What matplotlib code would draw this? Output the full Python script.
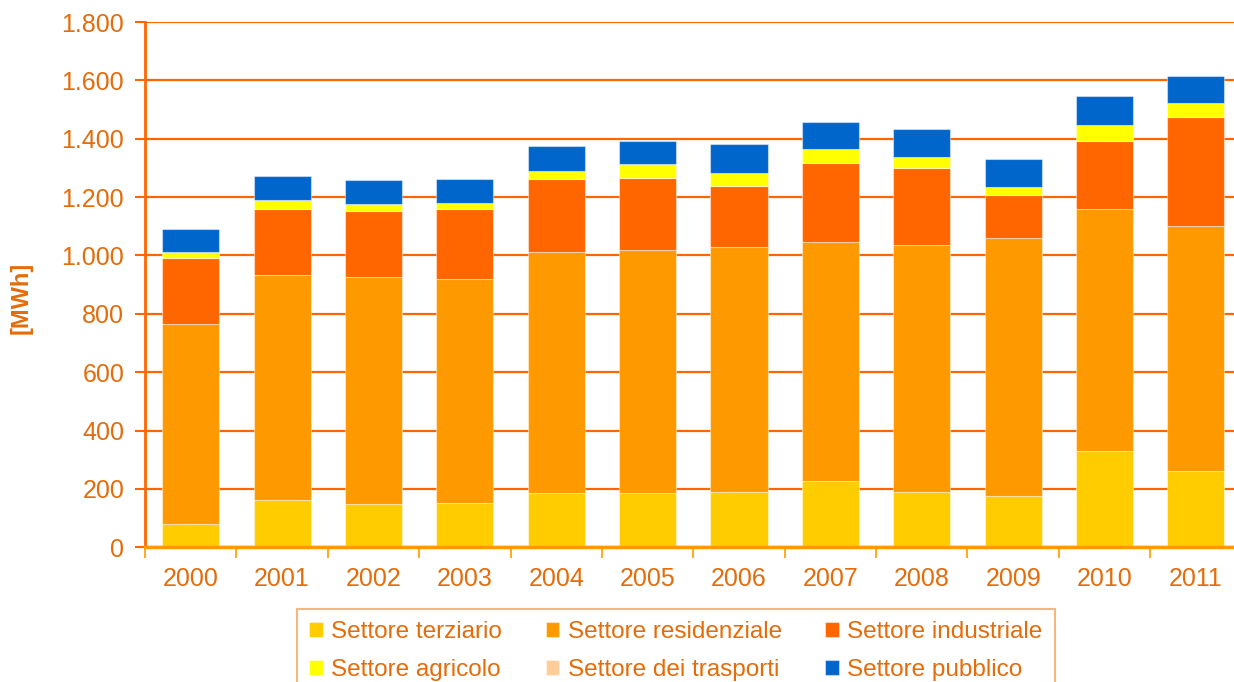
import numpy as np
import matplotlib
matplotlib.use("Agg")
import matplotlib.pyplot as plt
from matplotlib.ticker import FuncFormatter, FixedLocator

plt.rcParams['font.family'] = ['Liberation Sans', 'DejaVu Sans']

# data (MWh)
anni = ["2000", "2001", "2002", "2003", "2004", "2005",
        "2006", "2007", "2008", "2009", "2010", "2011"]
terziario = [79, 162, 148, 153, 186, 186, 191, 228, 191, 176, 329, 263]
residenziale = [686, 771, 779, 766, 825, 833, 838, 818, 845, 884, 830, 839]
industriale = [225, 225, 226, 239, 251, 248, 210, 270, 263, 147, 234, 374]
agricolo = [23, 32, 23, 23, 28, 46, 45, 50, 40, 29, 55, 46]
trasporti = [0, 0, 0, 0, 0, 0, 0, 0, 0, 0, 0, 0]
pubblico = [78, 81, 82, 82, 86, 80, 97, 91, 96, 95, 100, 94]

serie = [
    ("Settore terziario", terziario, "#FFCC00"),
    ("Settore residenziale", residenziale, "#FF9900"),
    ("Settore industriale", industriale, "#FF6600"),
    ("Settore agricolo", agricolo, "#FFFF00"),
    ("Settore dei trasporti", trasporti, "#FFCC99"),
    ("Settore pubblico", pubblico, "#0066CC"),
]

testo = "#E46C0A"
linea = "#FF6600"

fig = plt.figure(figsize=(12.34, 6.82), dpi=100)
ax = fig.add_axes([145 / 1234, 1 - 547.3 / 682, 1096.6 / 1234, 525.3 / 682])

x = np.arange(len(anni))
base = np.zeros(len(anni))
handles = {}
for nome, valori, colore in serie:
    b = ax.bar(x, valori, width=0.625, bottom=base, color=colore,
               edgecolor=(1, 1, 1, 0.45), linewidth=0.8, label=nome, zorder=3)
    handles[nome] = b
    base = base + np.array(valori)

ax.set_xlim(-0.5, len(anni) - 0.5)
ax.set_ylim(0, 1800)
ax.set_yticks(np.arange(0, 1801, 200))
ax.yaxis.set_major_formatter(FuncFormatter(lambda v, p: f"{int(v):,}".replace(",", ".")))
ax.grid(axis="y", color=linea, linewidth=1.6, zorder=0)

ax.set_xticks(x)
ax.set_xticklabels(anni)
ax.xaxis.set_minor_locator(FixedLocator(np.arange(-0.5, len(anni), 1)))
ax.tick_params(axis="x", which="major", length=0, pad=14, labelsize=18, labelcolor=testo)
ax.tick_params(axis="x", which="minor", length=8, width=1.2, color="#FF9900", direction="out")
ax.tick_params(axis="y", length=7, width=1.5, color=linea, labelsize=18,
               labelcolor=testo, pad=8)

for s in ["top", "right"]:
    ax.spines[s].set_visible(False)
ax.spines["left"].set_color(linea)
ax.spines["left"].set_linewidth(2)
ax.spines["bottom"].set_color("#FF9900")
ax.spines["bottom"].set_linewidth(2.5)
ax.spines["bottom"].set_zorder(4)

fig.text(21 / 1234, 1 - 298 / 682, "[MWh]", rotation=90, color=testo,
         fontsize=17, fontweight="bold", ha="center", va="center")

ordine = ["Settore terziario", "Settore agricolo", "Settore residenziale",
          "Settore dei trasporti", "Settore industriale", "Settore pubblico"]
leg = fig.legend([handles[n] for n in ordine], ordine, ncol=3,
                 loc="upper left", bbox_to_anchor=(297 / 1234, 1 - 609 / 682),
                 fontsize=17.5, frameon=True, fancybox=False, handlelength=0.55,
                 handleheight=0.55, handletextpad=0.35, columnspacing=1.8,
                 labelspacing=0.65, borderpad=0.5, borderaxespad=0)
leg.get_frame().set_edgecolor("#F4A460")
leg.get_frame().set_linewidth(1.5)
for t in leg.get_texts():
    t.set_color(testo)

fig.savefig("out.png", dpi=100)
